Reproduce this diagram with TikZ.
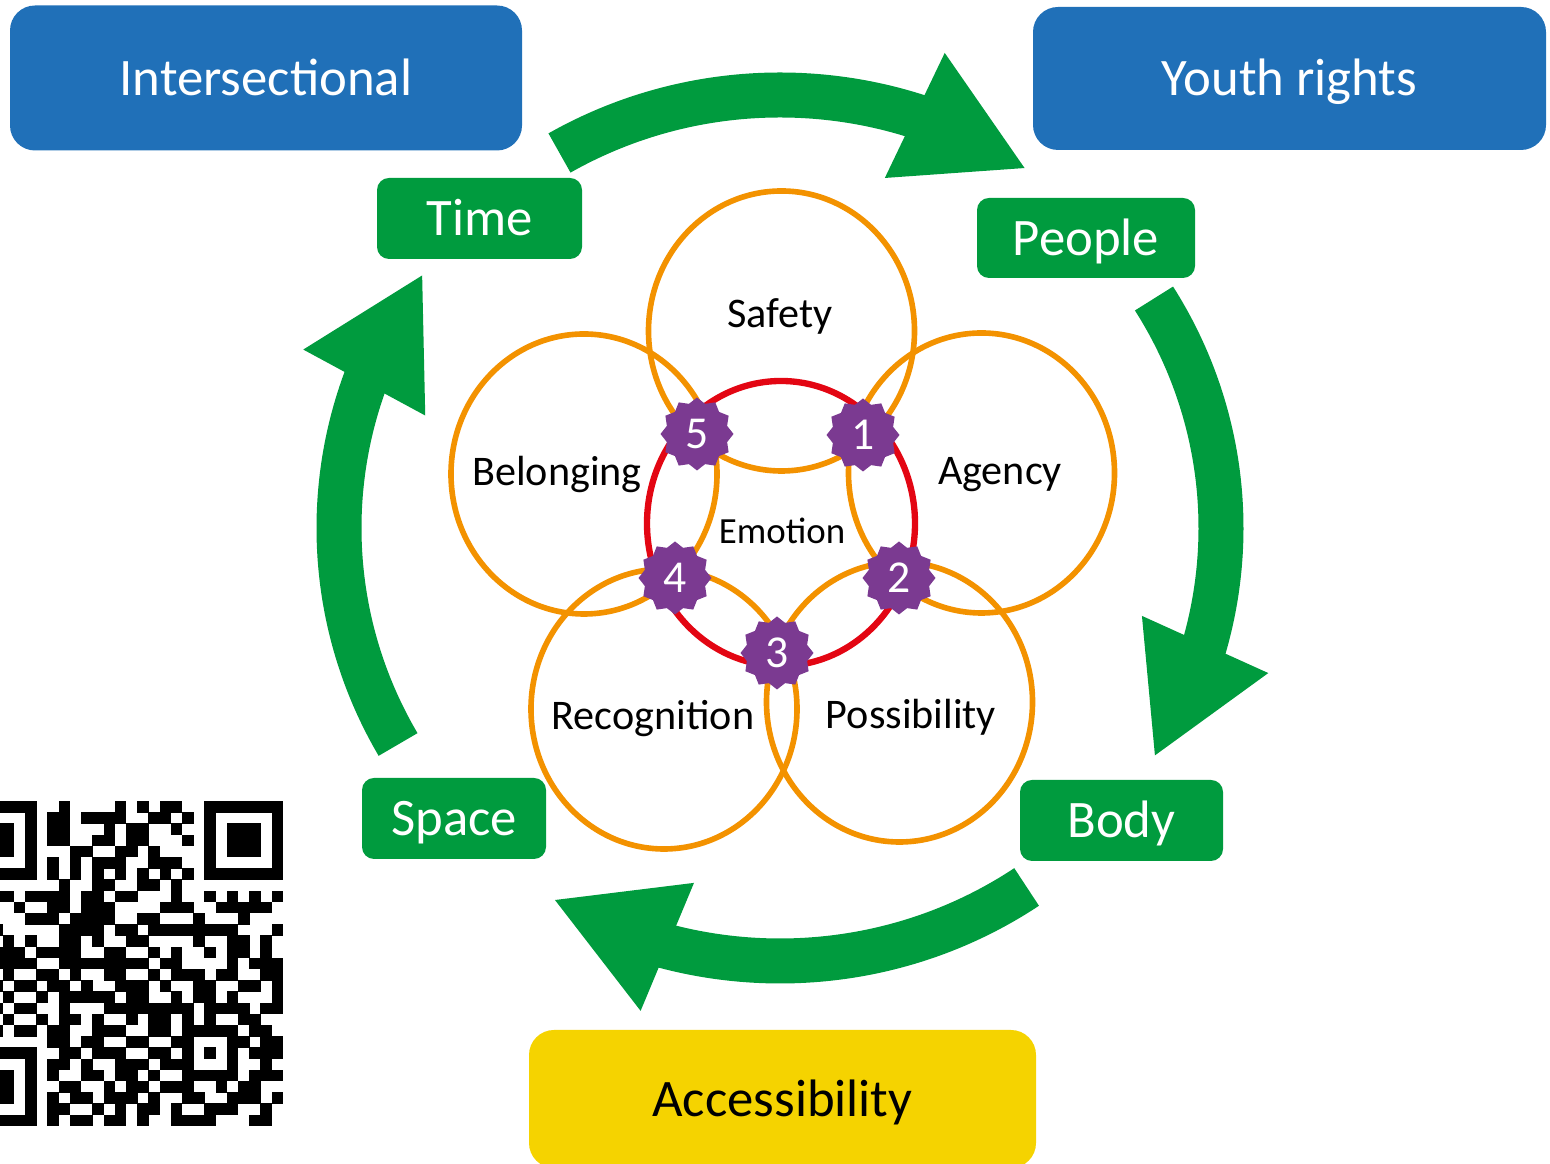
\documentclass[tikz,border=0pt]{standalone}
\usepackage{fontspec}
\setmainfont{Carlito}
\usetikzlibrary{positioning,arrows.meta,bending,shapes.geometric,calc}

\definecolor{tagblue}{HTML}{2070B8}
\definecolor{taggreen}{HTML}{009B3E}
\definecolor{tagyellow}{HTML}{F5D300}
\definecolor{ringorange}{HTML}{F39200}
\definecolor{ringred}{HTML}{E30613}
\definecolor{sealpurple}{HTML}{7B3A91}

% QR code: one string of 0/1 per row, scanned char by char
\newcount\qrcol
\def\qrmod{0.112}
\def\qrscan#1{%
  \ifx#1\relax\else
    \ifnum#1=1 \fill (\the\qrcol*\qrmod-0.421,3.63-\qrrow*\qrmod) rectangle ++(\qrmod+0.004,-\qrmod-0.004);\fi
    \advance\qrcol by 1
    \expandafter\qrscan
  \fi}

\begin{document}
\begin{tikzpicture}[
  bigtag/.style={rounded corners=0.25cm, fill=tagblue, text=white, minimum width=5.12cm, minimum height=1.45cm,
    text height=9.7pt, text depth=0pt, font=\fontsize{15}{18}\selectfont},
  dimtag/.style={rounded corners=0.12cm, fill=taggreen, text=white, minimum height=0.81cm,
    text height=9.7pt, text depth=0pt, font=\fontsize{15}{18}\selectfont},
  ring/.style={ellipse, draw=ringorange, line width=1.6pt, minimum width=2.66cm, minimum height=2.80cm, inner sep=0pt},
  ringtext/.style={text height=7.7pt, text depth=0pt, font=\fontsize{12}{14}\selectfont},
  seal/.style={star, star points=12, star point ratio=1.17, fill=sealpurple, text=white, minimum size=0.73cm,
    inner sep=0pt, text height=8.2pt, text depth=0pt, font=\fontsize{13}{15}\selectfont},
  looparrow/.style={draw=taggreen, line width=0.45cm, -{Triangle[width=1.29cm,length=1.24cm,flex]}}
]
\useasboundingbox (0,0) rectangle (15.5,11.64);
\clip (0,0) rectangle (15.5,11.64);

% corner tags
\node[bigtag] (intersect) at (2.66,10.86) {Intersectional};
\node[bigtag, minimum width=5.13cm, minimum height=1.43cm] (youth) at (12.895,10.855) {Youth rights};
\node[bigtag, fill=tagyellow, text=black, minimum width=5.07cm, minimum height=1.38cm] (access) at (7.825,0.65) {Accessibility};

% dimension tags
\node[dimtag, minimum width=2.05cm] (time) at (4.795,9.455) {Time};
\node[dimtag, minimum width=2.18cm, minimum height=0.80cm] (people) at (10.86,9.26) {People};
\node[dimtag, minimum width=1.84cm] (space) at (4.54,3.455) {Space};
\node[dimtag, minimum width=2.03cm] (body) at (11.215,3.435) {Body};

% cycle of arrows round the rings
\coordinate (hub) at (7.80,6.36);
\draw[looparrow] ([shift={(120:4.41 and 4.33)}]hub) arc[start angle=120, end angle=56, x radius=4.41, y radius=4.33];
\draw[looparrow] ([shift={(32:4.41 and 4.33)}]hub) arc[start angle=32, end angle=-32, x radius=4.41, y radius=4.33];
\draw[looparrow] ([shift={(-56:4.41 and 4.33)}]hub) arc[start angle=-56, end angle=-121, x radius=4.41, y radius=4.33];
\draw[looparrow] ([shift={(210:4.41 and 4.33)}]hub) arc[start angle=210, end angle=144, x radius=4.41, y radius=4.33];

% five rings and the emotion ring
\node[ring] (safety) at (7.815,8.33) {};
\node[ring] (agency) at (9.815,6.91) {};
\node[ring] (belonging) at (5.84,6.90) {};
\node[ring] (recognition) at (6.64,4.55) {};
\node[ring] (possibility) at (8.995,4.62) {};
\node[ring, draw=ringred, line width=1.8pt, minimum width=2.68cm, minimum height=2.85cm] (emotion) at (7.81,6.405) {};

\node[ringtext] (safetytxt) at (7.80,8.50) {Safety};
\node[ringtext] (agencytxt) at (10.00,6.93) {Agency};
\node[ringtext] (belongingtxt) at (5.57,6.92) {Belonging};
\node[ringtext] (recognitiontxt) at (6.53,4.48) {Recognition};
\node[ringtext] (possibilitytxt) at (9.11,4.49) {Possibility};
\node[ringtext, text height=6.8pt, font=\fontsize{10.5}{12}\selectfont] (emotiontxt) at (7.82,6.32) {Emotion};

% numbered seals where the rings cross
\node[seal] (s1) at (8.63,7.29) {1};
\node[seal] (s2) at (8.99,5.86) {2};
\node[seal] (s3) at (7.77,5.11) {3};
\node[seal] (s4) at (6.75,5.86) {4};
\node[seal] (s5) at (6.97,7.30) {5};

% QR code, cut off at the left edge
\foreach \bits [count=\qrrow from 0] in {
  11111110010000101011001111111, 10000010110111100110101000001,
  10111010110001011001001011101, 10111010110011011000101011101,
  10111010001100110100001011101, 10000010101011100111001000001,
  11111110101010101010101111111, 00000000010011001101000000000,
  10111011110110110001001010101, 01000100110111000011100111110,
  11000011101111001100010001000, 00110000011110110111111110001,
  10101010011010011000010011010, 01111101111001100101001011010,
  10011110011111111011000010111, 01001001101001100101110110011,
  11010110110100111010011001101, 00101001011111011001011010001,
  10010110010001111111101111011, 01101001011010010110101001100,
  10110110110011100110111110110, 00000000110110011001100011011,
  11111110011011100110101010111, 10000010110100111011100010010,
  10111010100110110100111110111, 10111010011001011011100101100,
  10111010101101110100110011101, 10000010110010101101001110010,
  11111110101101101001111000110}
{\qrcol=0 \expandafter\qrscan\bits\relax}
\end{tikzpicture}
\end{document}
